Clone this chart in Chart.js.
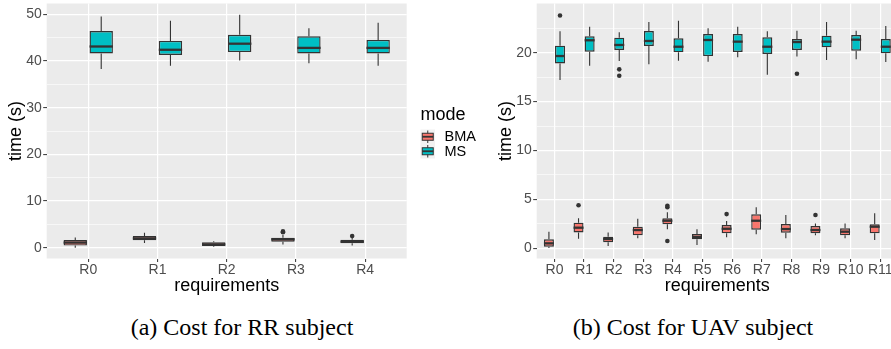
<!DOCTYPE html>
<html>
<head>
<meta charset="utf-8">
<script src="https://cdn.jsdelivr.net/npm/chart.js@4.4.0/dist/chart.umd.min.js"></script>
<style>
  body { margin: 0; width: 891px; height: 349px; overflow: hidden; background: #fff; position: relative; }
  #chart-rr { position: absolute; left: 0; top: 0; }
  #chart-uav { position: absolute; left: 490px; top: 0; }
  .caption { position: absolute; top: 316px; width: 400px; text-align: center; font-family: "Liberation Serif", serif; font-size: 24px; line-height: 23px; color: #000; white-space: nowrap; }
</style>
</head>
<body>
<canvas id="chart-rr" width="490" height="300"></canvas>
<canvas id="chart-uav" width="408" height="300"></canvas>
<div class="caption" style="left:42px">(a) Cost for RR subject</div>
<div class="caption" style="left:493px">(b) Cost for UAV subject</div>
<script>
// each box: [lower whisker, q1, median, q3, upper whisker]
var rrReq = ["R0", "R1", "R2", "R3", "R4"];
var rrBma = [
  [0.0, 0.45, 1.1, 1.65, 2.2],
  [1.0, 1.6, 2.0, 2.5, 3.2],
  [0.2, 0.36, 0.7, 1.15, 1.4],
  [0.7, 1.3, 1.8, 2.15, 2.7],
  [0.5, 0.95, 1.3, 1.7, 2.1]
];
var rrBmaOut = [[], [], [], [3.3, 3.5], [2.5]];
var rrMs = [
  [38.3, 41.6, 43.1, 46.4, 49.5],
  [39.0, 41.3, 42.4, 44.3, 48.6],
  [40.1, 41.9, 43.7, 45.6, 49.9],
  [39.5, 41.6, 42.8, 45.3, 47.0],
  [39.0, 41.6, 42.8, 44.5, 48.2]
];
var rrMsOut = [[], [], [], [], []];
// y grid: labelled every 10, minor line every 5
var rrYTicks = [0, 5, 10, 15, 20, 25, 30, 35, 40, 45, 50];

var uavReq = ["R0", "R1", "R2", "R3", "R4", "R5", "R6", "R7", "R8", "R9", "R10", "R11"];
var uavBma = [
  [0.03, 0.17, 0.51, 0.92, 1.7],
  [0.98, 1.63, 2.11, 2.62, 3.07],
  [0.24, 0.61, 0.95, 1.19, 1.63],
  [1.02, 1.33, 1.87, 2.21, 3.03],
  [1.94, 2.45, 2.82, 3.07, 3.68],
  [0.34, 0.92, 1.16, 1.46, 1.94],
  [1.12, 1.53, 2.0, 2.38, 2.79],
  [1.43, 1.9, 2.82, 3.48, 4.19],
  [1.02, 1.6, 1.97, 2.48, 3.4],
  [1.33, 1.53, 1.87, 2.28, 2.55],
  [1.02, 1.33, 1.7, 2.04, 2.55],
  [0.85, 1.53, 2.21, 2.45, 3.58]
];
var uavBmaOut = [[], [4.4], [], [], [4.2, 4.35, 0.75], [], [3.5], [], [], [3.4], [], []];
var uavMs = [
  [17.2, 18.9, 19.66, 20.72, 22.2],
  [18.67, 20.1, 21.27, 21.67, 22.66],
  [19.15, 20.28, 20.79, 21.54, 22.08],
  [18.81, 20.69, 21.2, 22.22, 23.14],
  [19.18, 20.04, 20.61, 21.47, 23.27],
  [19.08, 19.66, 21.3, 21.91, 22.49],
  [19.53, 20.07, 21.13, 21.91, 22.66],
  [17.75, 19.87, 20.61, 21.57, 22.2],
  [19.6, 20.28, 21.09, 21.4, 22.25],
  [19.25, 20.55, 21.13, 21.74, 23.14],
  [19.32, 20.2, 21.33, 21.81, 22.25],
  [19.05, 19.94, 20.61, 21.4, 22.73]
];
var uavMsOut = [[23.8], [], [18.3, 17.65], [], [], [], [], [], [17.85], [], [], []];
var uavYTicks = [0, 2.5, 5, 7.5, 10, 12.5, 15, 17.5, 20, 22.5];

var modes = ["BMA", "MS"];
var modeColors = ["#F8766D", "#00BFC4"];

var FONT = '"Liberation Sans", Arial, sans-serif';
var INK = "#333333";

// grey panel + whiskers, medians and outliers on top of the floating bars
var boxParts = {
  id: "boxParts",
  beforeDraw: function (chart) {
    var a = chart.chartArea, ctx = chart.ctx;
    ctx.save();
    ctx.fillStyle = "#EBEBEB";
    ctx.fillRect(a.left, a.top, a.right - a.left, a.bottom - a.top);
    ctx.restore();
  },
  afterDatasetsDraw: function (chart) {
    var ctx = chart.ctx, y = chart.scales.y;
    chart.data.datasets.forEach(function (ds, di) {
      var meta = chart.getDatasetMeta(di);
      meta.data.forEach(function (bar, i) {
        var s = ds.stats[i];
        var x = bar.x, half = bar.width / 2;
        ctx.save();
        ctx.strokeStyle = INK;
        ctx.lineWidth = 1.1;
        ctx.beginPath();
        ctx.moveTo(x, y.getPixelForValue(s[4]));
        ctx.lineTo(x, y.getPixelForValue(s[3]));
        ctx.moveTo(x, y.getPixelForValue(s[1]));
        ctx.lineTo(x, y.getPixelForValue(s[0]));
        ctx.stroke();
        var m = y.getPixelForValue(s[2]);
        ctx.lineWidth = 2.3;
        ctx.beginPath();
        ctx.moveTo(x - half, m);
        ctx.lineTo(x + half, m);
        ctx.stroke();
        ctx.fillStyle = INK;
        ds.outliers[i].forEach(function (v) {
          ctx.beginPath();
          ctx.arc(x, y.getPixelForValue(v), 2.3, 0, Math.PI * 2);
          ctx.fill();
        });
        ctx.restore();
      });
    });
  }
};

// ggplot style legend to the right of panel (a)
var modeLegend = {
  id: "modeLegend",
  afterDraw: function (chart) {
    var ctx = chart.ctx;
    var left = 420.5, top = 129.5, key = 14.5;
    ctx.save();
    ctx.fillStyle = "#000";
    ctx.font = "18px " + FONT;
    ctx.textBaseline = "alphabetic";
    ctx.textAlign = "left";
    ctx.fillText("mode", left, 120);
    modes.forEach(function (name, i) {
      var ky = top + i * key, cx = left + key / 2, cy = ky + key / 2;
      ctx.fillStyle = "#F2F2F2";
      ctx.fillRect(left, ky, key, key);
      ctx.strokeStyle = INK;
      ctx.lineWidth = 1;
      ctx.beginPath();
      ctx.moveTo(cx, ky + 1);
      ctx.lineTo(cx, ky + key - 1);
      ctx.stroke();
      ctx.fillStyle = modeColors[i];
      ctx.fillRect(cx - 5.5, cy - 3.5, 11, 7);
      ctx.strokeRect(cx - 5.5, cy - 3.5, 11, 7);
      ctx.lineWidth = 1.8;
      ctx.beginPath();
      ctx.moveTo(cx - 5.5, cy);
      ctx.lineTo(cx + 5.5, cy);
      ctx.stroke();
      ctx.fillStyle = "#000";
      ctx.font = "14.5px " + FONT;
      ctx.textBaseline = "middle";
      ctx.fillText(name, 444.5, cy + 0.5);
    });
    ctx.restore();
  }
};

function boxDatasets(labels, groups, outs) {
  return groups.map(function (g, k) {
    return {
      label: modes[k],
      data: labels.map(function (r, i) { return { x: i + 1, y: [g[i][1], g[i][3]] }; }),
      stats: g,
      outliers: outs[k],
      backgroundColor: modeColors[k],
      borderColor: INK,
      borderWidth: 1.4,
      borderSkipped: false,
      categoryPercentage: 0.75,
      barPercentage: 0.9
    };
  });
}

function isStep(v, step) {
  return Math.abs(v / step - Math.round(v / step)) < 1e-6;
}

function makeOptions(labels, yTicks, yMin, yMax, major, padRight) {
  return {
    responsive: false,
    devicePixelRatio: 1,
    animation: false,
    layout: { padding: { top: 3.5, right: padRight, bottom: 0, left: 0 } },
    plugins: { legend: { display: false }, tooltip: { enabled: false } },
    scales: {
      x: {
        type: "linear",
        min: 0.4,
        max: labels.length + 0.6,
        offset: false,
        border: { display: false },
        grid: { color: "#FFFFFF", lineWidth: 1.2, offset: false, tickLength: 3.5, tickColor: INK, tickWidth: 1 },
        ticks: {
          stepSize: 1, autoSkip: false, maxRotation: 0, padding: 0,
          color: "#4D4D4D", font: { family: FONT, size: 14 },
          callback: function (v) { return labels[Math.round(v) - 1]; }
        },
        afterBuildTicks: function (s) {
          s.ticks = labels.map(function (l, i) { return { value: i + 1 }; });
        },
        title: { display: true, text: "requirements", color: "#000", font: { family: FONT, size: 18 }, padding: { top: 0, bottom: 3 } },
        afterFit: function (s) { s.height = 41.5; s.paddingLeft = 0; s.paddingRight = 0; }
      },
      y: {
        min: yMin,
        max: yMax,
        border: { display: false },
        grid: {
          color: "#FFFFFF",
          lineWidth: function (c) { return isStep(c.tick.value, major) ? 1.2 : 0.6; },
          tickLength: 3.5,
          tickWidth: 1,
          tickColor: function (c) { return isStep(c.tick.value, major) ? INK : "rgba(0,0,0,0)"; }
        },
        ticks: {
          padding: 1.5,
          color: "#4D4D4D", font: { family: FONT, size: 14 },
          callback: function (v) { return isStep(v, major) ? String(v) : ""; }
        },
        afterBuildTicks: function (s) {
          s.ticks = yTicks.map(function (v) { return { value: v }; });
        },
        title: { display: true, text: "time (s)", color: "#000", font: { family: FONT, size: 18 }, padding: { top: 5, bottom: 0 } },
        afterFit: function (s) { s.width = 46.7; s.paddingTop = 0; s.paddingBottom = 0; }
      }
    }
  };
}

new Chart(document.getElementById("chart-rr").getContext("2d"), {
  type: "bar",
  data: { datasets: boxDatasets(rrReq, [rrBma, rrMs], [rrBmaOut, rrMsOut]) },
  options: makeOptions(rrReq, rrYTicks, -2.31, 52.31, 10, 83.3),
  plugins: [boxParts, modeLegend]
});

new Chart(document.getElementById("chart-uav").getContext("2d"), {
  type: "bar",
  data: { datasets: boxDatasets(uavReq, [uavBma, uavMs], [uavBmaOut, uavMsOut]) },
  options: makeOptions(uavReq, uavYTicks, -1.04, 25.03, 5, 0),
  plugins: [boxParts]
});
</script>
</body>
</html>
